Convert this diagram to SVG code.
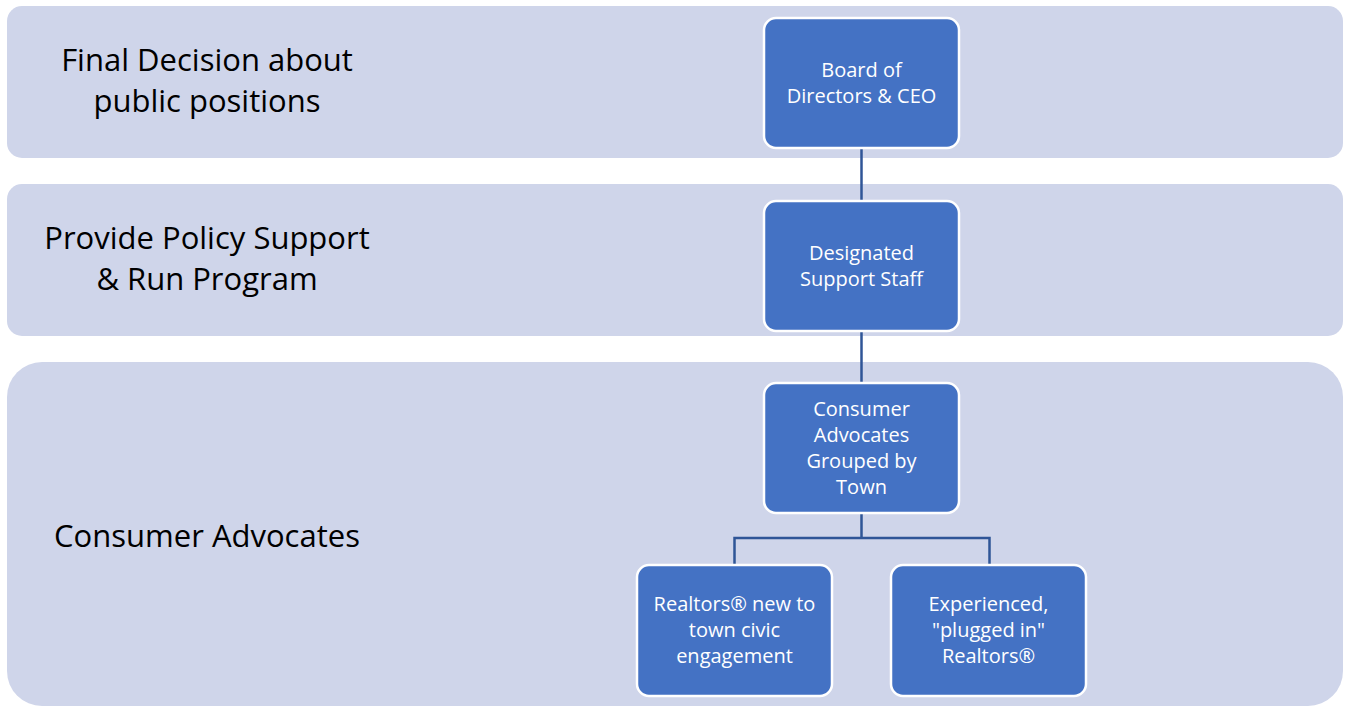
<svg xmlns="http://www.w3.org/2000/svg" width="1347" height="709" viewBox="0 0 1347 709">
<style>
.band{fill:#CFD5EA}
.node{fill:#4472C4;stroke:#FFFFFF;stroke-width:2.5}
.lbl{font-family:"Open Sans","Noto Sans",sans-serif;font-size:31px;fill:#000;text-anchor:middle}
.nt{font-family:"Open Sans","Noto Sans",sans-serif;font-size:20px;fill:#FFFFFF;text-anchor:middle}
.conn{fill:none;stroke:#2F5597;stroke-width:2.5}
</style>
<rect width="1347" height="709" fill="#FFFFFF"/>
<g id="band1"><rect class="band" x="7" y="6" width="1336" height="152" rx="15"/><text class="lbl" x="207" y="71">Final Decision about</text><text class="lbl" x="207" y="112">public positions</text></g>
<g id="band2"><rect class="band" x="7" y="184" width="1336" height="152" rx="15"/><text class="lbl" x="207" y="249">Provide Policy Support</text><text class="lbl" x="207" y="290">&amp; Run Program</text></g>
<g id="band3"><rect class="band" x="7" y="362" width="1336" height="344" rx="35"/><text class="lbl" x="207" y="547">Consumer Advocates</text></g>
<g id="connectors">
<line class="conn" x1="861.5" y1="148" x2="861.5" y2="201"/>
<line class="conn" x1="861.5" y1="331" x2="861.5" y2="383"/>
<path class="conn" d="M861.5 513 V538 M734.5 565 V538 H989.5 V565"/>
</g>
<g id="board"><rect class="node" x="764" y="18" width="195" height="130" rx="12"/><text class="nt" x="861.5" y="77">Board of</text><text class="nt" x="861.5" y="103">Directors &amp; CEO</text></g>
<g id="staff"><rect class="node" x="764" y="201" width="195" height="130" rx="12"/><text class="nt" x="861.5" y="260">Designated</text><text class="nt" x="861.5" y="286">Support Staff</text></g>
<g id="advocates"><rect class="node" x="764" y="383" width="195" height="130" rx="12"/><text class="nt" x="861.5" y="416">Consumer</text><text class="nt" x="861.5" y="442">Advocates</text><text class="nt" x="861.5" y="468">Grouped by</text><text class="nt" x="861.5" y="494">Town</text></g>
<g id="new"><rect class="node" x="637" y="565" width="195" height="131" rx="12"/><text class="nt" x="734.5" y="611">Realtors® new to</text><text class="nt" x="734.5" y="637">town civic</text><text class="nt" x="734.5" y="663">engagement</text></g>
<g id="experienced"><rect class="node" x="891" y="565" width="195" height="131" rx="12"/><text class="nt" x="988.5" y="611">Experienced,</text><text class="nt" x="988.5" y="637">"plugged in"</text><text class="nt" x="988.5" y="663">Realtors®</text></g>
</svg>
